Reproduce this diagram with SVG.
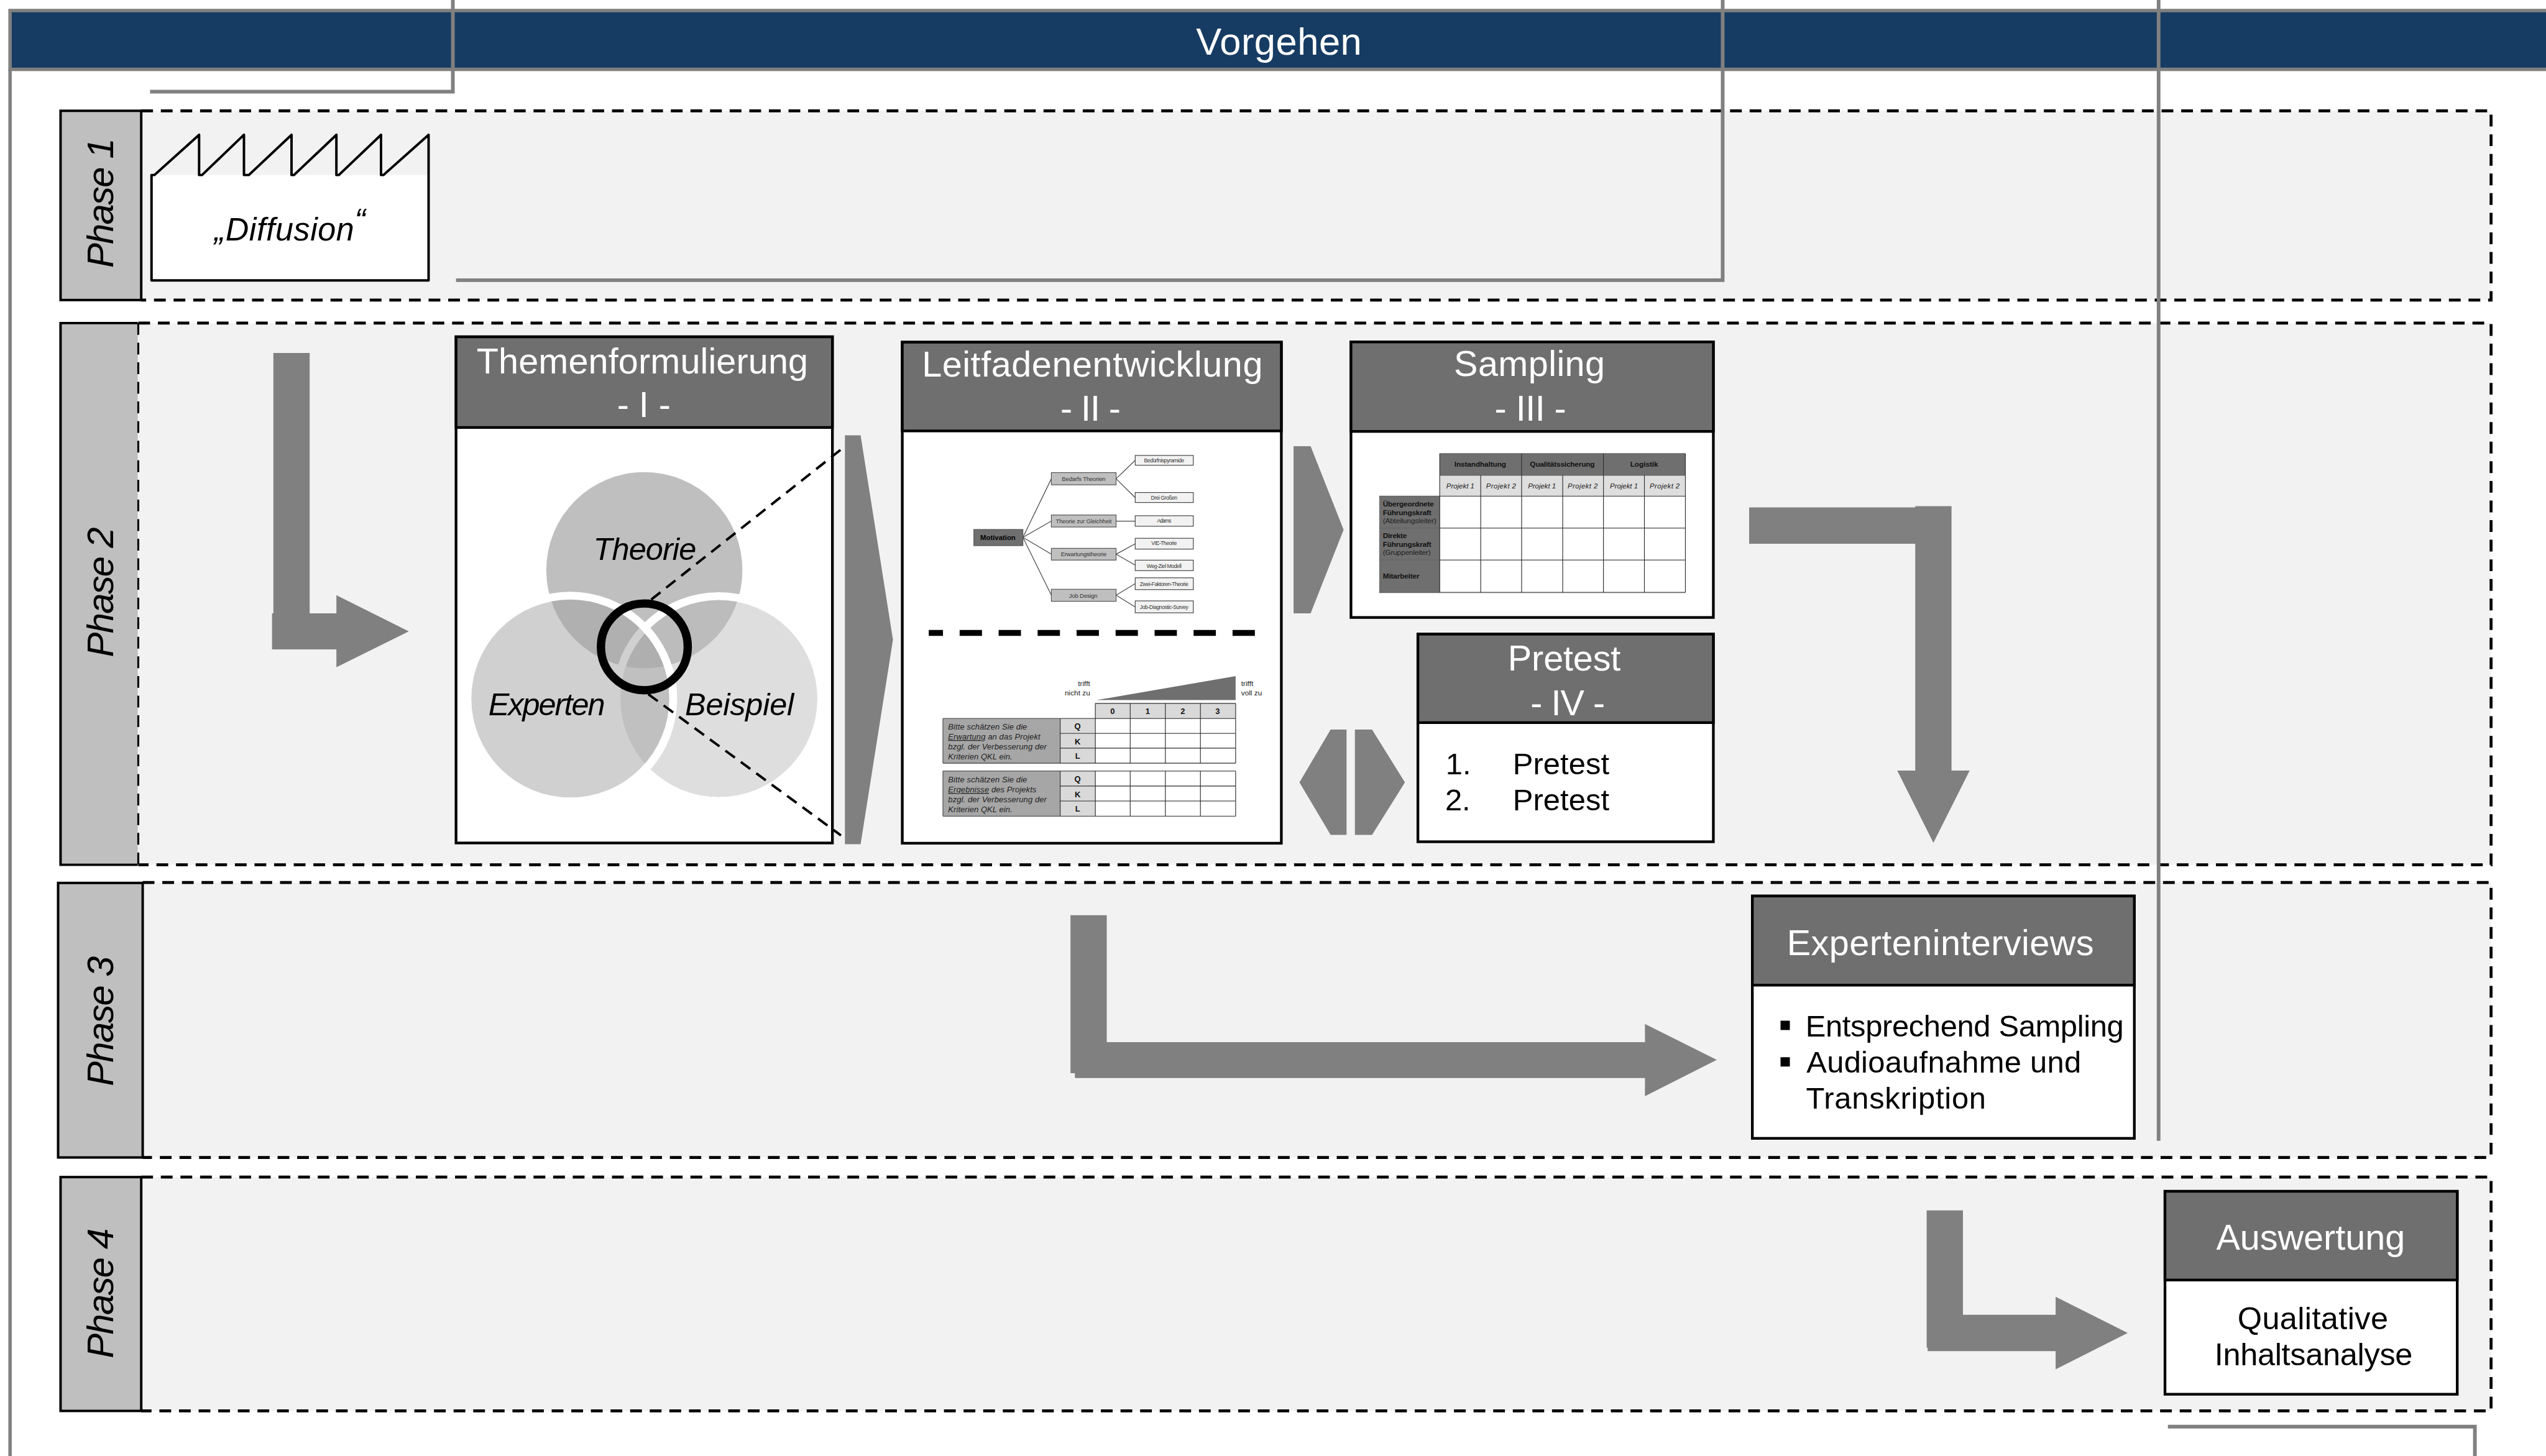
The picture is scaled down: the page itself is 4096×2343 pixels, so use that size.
<svg xmlns="http://www.w3.org/2000/svg" width="4096" height="2343" viewBox="0 0 4096 2343">
<style>
text{font-family:"Liberation Sans",Arial,sans-serif}
.arrow{fill:#808080}
.rail{fill:none;stroke:#808080;stroke-width:7.5}
.panel{fill:#f2f2f2}
.dash{fill:none;stroke:#000;stroke-width:6;stroke-dasharray:24 16}
.lab{fill:#bfbfbf;stroke:#000;stroke-width:5}
.ph{font-size:76px;font-style:italic;fill:#000;text-anchor:middle}
.head{fill:#6f6f6f;stroke:#000;stroke-width:5.5}
.body{fill:#fff;stroke:#000;stroke-width:5.5}
.t{font-size:73px;fill:#fff;text-anchor:middle}
.b{font-size:62px;fill:#000}
.i{font-size:64px;font-style:italic;fill:#000}
.l1{fill:#bfbfbf;stroke:#555;stroke-width:1.5}
.l2{fill:#f2f2f2;stroke:#444;stroke-width:1.5}
.tl{fill:none;stroke:#444;stroke-width:1.5}
.s1{font-size:12px;fill:#333;text-anchor:middle}
.s2{font-size:11px;fill:#333;text-anchor:middle}
.q{font-size:16.5px;font-style:italic;fill:#222}
.k{font-size:16.5px;font-weight:bold;fill:#111;text-anchor:middle}
.n{font-size:15px;fill:#222}
.h{stroke:#666;stroke-width:2;fill:none}
.v{stroke:#333;stroke-width:1.5;fill:none}
.sb{font-size:15px;font-weight:bold;fill:#111}
.sr{font-size:15px;fill:#222}
.sc{text-anchor:middle}
.sp{font-size:14.5px;font-style:italic;fill:#222;text-anchor:middle}
</style>
<g transform="scale(0.788906)">
<g id="frame">
<rect x="0" y="0" width="5192" height="2970" fill="#fff"/>
<rect x="20.5" y="21.5" width="5190" height="120" fill="#173c63" stroke="#808080" stroke-width="7"/>
<path d="M20.5 141V2970" class="rail" style="stroke-width:7"/>
<text x="2608" y="111" font-size="78" fill="#fff" text-anchor="middle" textLength="338">Vorgehen</text>
</g>

<g id="phase1">
<rect class="panel" x="288" y="226" width="4792" height="386"/>
<path class="dash" d="M288 226H5080V612H288"/>
<rect class="lab" x="123.500" y="226" width="164.500" height="386"/>
<text class="ph" transform="translate(231 414) rotate(-90)" textLength="265">Phase 1</text>
</g>
<g id="phase2">
<rect class="panel" x="282" y="659" width="4798" height="1105"/>
<path class="dash" d="M282 659H5080V1764H282"/>
<rect x="121" y="659" width="160" height="1105" fill="#bfbfbf"/>
<path d="M281 659H123.500V1764H281" fill="none" stroke="#000" stroke-width="5"/>
<path class="dash" d="M282 659V1764" style="stroke-width:4"/>
<text class="ph" transform="translate(231 1208) rotate(-90)" textLength="265">Phase 2</text>
</g>
<g id="phase3">
<rect class="panel" x="291" y="1800" width="4789" height="561"/>
<path class="dash" d="M291 1800H5080V2361H291"/>
<rect class="lab" x="118.500" y="1801" width="172.500" height="560"/>
<text class="ph" transform="translate(231 2083) rotate(-90)" textLength="265">Phase 3</text>
</g>
<g id="phase4">
<rect class="panel" x="288" y="2401" width="4792" height="477"/>
<path class="dash" d="M288 2401H5080V2878H288"/>
<rect class="lab" x="123.500" y="2401" width="164.500" height="477"/>
<text class="ph" transform="translate(231 2638) rotate(-90)" textLength="265">Phase 4</text>
</g>

<g id="diffusion">
<rect x="309" y="357" width="565" height="215" fill="#fff"/>
<path d="M309 357H315L406 275V357H412L497.500 275V357H507.500L594.500 275V357H599.500L686 275V357H691L777 275V357H782L874 275V572H309Z" fill="none" stroke="#000" stroke-width="5" stroke-linejoin="round"/>
<text x="437" y="491" font-size="66" font-style="italic" fill="#000" textLength="308">„Diffusion<tspan dy="-20">“</tspan></text>
</g>

<g id="connectors">
<polygon class="arrow" points="557.500,720 631.500,720 631.500,1251 686,1251 686,1214 833.700,1288 686,1361 686,1324.600 554.700,1324.600 554.700,1251 557.500,1251"/>
<polygon class="arrow" points="1723,888 1755,888 1821,1305 1755,1722 1723,1722"/>
<polygon class="arrow" points="2638,910 2672.700,910 2740,1080.700 2672.700,1251 2638,1251"/>
<polygon class="arrow" points="2746,1488 2713.500,1488 2650,1596 2713.500,1703 2746,1703"/>
<polygon class="arrow" points="2763,1488 2798,1488 2865,1596 2798,1703 2763,1703"/>
<polygon class="arrow" points="3567,1035 3905.700,1035 3905.700,1032.500 3979.700,1032.500 3979.700,1571.800 4016.700,1571.800 3942.700,1719 3869,1571.800 3905.700,1571.800 3905.700,1109 3567,1109"/>
<polygon class="arrow" points="2183,1866.700 2257,1866.700 2257,2125.700 3354.500,2125.700 3354.500,2088.700 3501,2162 3354.500,2236 3354.500,2199 2192,2199 2192,2189 2183,2189"/>
<polygon class="arrow" points="3929,2469 4003,2469 4003,2682 4192,2682 4192,2645 4339,2719 4192,2793 4192,2756 3931,2756 3931,2749 3929,2749"/>
<path class="rail" d="M306 187H923.500V0"/>
<path class="rail" d="M930 571.500H3513V0"/>
<path class="rail" d="M4402 0V2327"/>
<path class="rail" d="M4421 2910H5047V2970"/>
</g>

<g id="box1">
<rect class="body" x="930" y="687" width="767.500" height="1032.500"/>
<rect class="head" x="930" y="687" width="767.500" height="185"/>
<text class="t" x="1310" y="762" textLength="676">Themenformulierung</text>
<text class="t" x="1313" y="851">- I -</text>
<g id="venn">
<circle cx="1314" cy="1163" r="200" fill="#bfbfbf"/>
<circle cx="1466" cy="1425" r="201" fill="#bababa" opacity=".48"/>
<circle cx="1466" cy="1425" r="209" fill="none" stroke="#fff" stroke-width="16"/>
<circle cx="1163" cy="1425" r="202" fill="#a1a1a1" opacity=".5"/>
<circle cx="1163" cy="1425" r="210" fill="none" stroke="#fff" stroke-width="16"/>
<circle cx="1314" cy="1319.500" r="88.500" fill="none" stroke="#000" stroke-width="17"/>
<path d="M1328 1223L1725 909" fill="none" stroke="#000" stroke-width="5" stroke-dasharray="24 15"/>
<path d="M1322 1416L1715 1704" fill="none" stroke="#000" stroke-width="5" stroke-dasharray="24 15"/>
<text class="i" x="1210" y="1142" textLength="210">Theorie</text>
<text class="i" x="996" y="1459" textLength="238">Experten</text>
<text class="i" x="1397" y="1459" textLength="222">Beispiel</text>
</g>
</g>

<g id="box2">
<rect class="body" x="1840" y="698" width="773" height="1022"/>
<rect class="head" x="1840" y="698" width="773" height="181"/>
<text class="t" x="2227.500" y="768" textLength="695">Leitfadenentwicklung</text>
<text class="t" x="2224" y="858" textLength="123">- II -</text>
<g id="tree">
<path class="tl" d="M2086 1096L2144 976.500M2086 1096L2144 1063M2086 1096L2144 1130.500M2086 1096L2144 1214M2276 976.500L2315 939M2276 976.500L2315 1015M2276 1063H2315M2276 1130.500L2315 1109M2276 1130.500L2315 1153M2276 1214L2315 1190.500M2276 1214L2315 1238"/>
<rect x="1986" y="1080" width="100" height="33" fill="#6f6f6f" stroke="#555" stroke-width="1.5"/>
<text x="2035" y="1101" font-size="14.500" font-weight="bold" fill="#000" text-anchor="middle" textLength="72">Motivation</text>
<rect class="l1" x="2144" y="964" width="132" height="25"/><text class="s1" x="2210" y="981" textLength="89">Bedarfs Theorien</text>
<rect class="l1" x="2144" y="1050.500" width="132" height="24.500"/><text class="s1" x="2210" y="1067" textLength="114">Theorie zur Gleichheit</text>
<rect class="l1" x="2144" y="1118.500" width="132" height="24"/><text class="s1" x="2210" y="1135" textLength="93">Erwartungstheorie</text>
<rect class="l1" x="2144" y="1202" width="132" height="24.500"/><text class="s1" x="2209" y="1219" textLength="58">Job Design</text>
<rect class="l2" x="2315" y="929" width="118.500" height="20"/><text class="s2" x="2374" y="943" textLength="82">Bedürfnispyramide</text>
<rect class="l2" x="2315" y="1004.600" width="118.500" height="20.400"/><text class="s2" x="2374" y="1019" textLength="54">Drei Großen</text>
<rect class="l2" x="2315" y="1052" width="118.500" height="21.400"/><text class="s2" x="2374" y="1066" textLength="29">Adams</text>
<rect class="l2" x="2315" y="1098" width="118.500" height="22"/><text class="s2" x="2374" y="1112" textLength="52">VIE-Theorie</text>
<rect class="l2" x="2315" y="1142.600" width="118.500" height="21.400"/><text class="s2" x="2374" y="1158" textLength="71">Weg-Ziel Modell</text>
<rect class="l2" x="2315" y="1178.600" width="118.500" height="24.100"/><text class="s2" x="2374" y="1195" textLength="99">Zwei-Faktoren-Theorie</text>
<rect class="l2" x="2315" y="1225.700" width="118.500" height="24.300"/><text class="s2" x="2374" y="1242" textLength="99">Job-Diagnostic-Survey</text>
</g>
<path d="M1894 1291H2560" fill="none" stroke="#000" stroke-width="12" stroke-dasharray="45.500 34" stroke-dashoffset="16.500"/>
<g id="survey">
<polygon points="2236,1428 2519.800,1379 2519.800,1428" fill="#6f6f6f"/>
<text class="n" x="2223" y="1399" text-anchor="end">trifft</text>
<text class="n" x="2223" y="1419" text-anchor="end">nicht zu</text>
<text class="n" x="2531" y="1399">trifft</text>
<text class="n" x="2531" y="1419">voll zu</text>
<rect x="2233.700" y="1434.700" width="286.100" height="30.600" fill="#d9d9d9"/>
<rect x="1923" y="1465.700" width="239" height="91" fill="#a6a6a6"/>
<rect x="1923" y="1572.700" width="239" height="92.300" fill="#a6a6a6"/>
<rect x="2162" y="1465.700" width="71.700" height="91" fill="#d9d9d9"/>
<rect x="2162" y="1572.700" width="71.700" height="92.300" fill="#d9d9d9"/>
<path class="h" d="M2233.700 1434.700H2519.800M1923 1465.700H2519.800M2162 1496H2519.800M2162 1526H2519.800M1923 1556.700H2519.800M1923 1572.700H2519.800M2162 1603.300H2519.800M2162 1634H2519.800M1923 1665H2519.800M1923 1465.700V1556.700M1923 1572.700V1665"/>
<path class="v" d="M2162 1465.700V1556.700M2162 1572.700V1665M2233.700 1434.700V1556.700M2233.700 1572.700V1665M2304.800 1434.700V1556.700M2304.800 1572.700V1665M2376.500 1434.700V1556.700M2376.500 1572.700V1665M2448 1434.700V1556.700M2448 1572.700V1665M2519.800 1434.700V1556.700M2519.800 1572.700V1665"/>
<text class="k" x="2268.700" y="1457">0</text><text class="k" x="2340.400" y="1457">1</text><text class="k" x="2412" y="1457">2</text><text class="k" x="2483" y="1457">3</text>
<text class="k" x="2197.600" y="1487">Q</text><text class="k" x="2197.600" y="1518">K</text><text class="k" x="2197.600" y="1548">L</text>
<text class="k" x="2197.600" y="1595">Q</text><text class="k" x="2197.600" y="1626">K</text><text class="k" x="2197.600" y="1656">L</text>
<text class="q" x="1933.500" y="1487.700" textLength="161">Bitte schätzen Sie die</text>
<text class="q" x="1933.500" y="1508.300" textLength="188"><tspan text-decoration="underline">Erwartung</tspan> an das Projekt</text>
<text class="q" x="1933.500" y="1528.700" textLength="201">bzgl. der Verbesserung der</text>
<text class="q" x="1933.500" y="1548.700" textLength="131">Kriterien QKL ein.</text>
<text class="q" x="1933.500" y="1595.700" textLength="161">Bitte schätzen Sie die</text>
<text class="q" x="1933.500" y="1616.300" textLength="180"><tspan text-decoration="underline">Ergebnisse</tspan> des Projekts</text>
<text class="q" x="1933.500" y="1636.700" textLength="201">bzgl. der Verbesserung der</text>
<text class="q" x="1933.500" y="1656.700" textLength="131">Kriterien QKL ein.</text>
</g>
</g>

<g id="box3">
<rect class="body" x="2755" y="697.500" width="739" height="562"/>
<rect class="head" x="2755" y="697.500" width="739" height="182.500"/>
<text class="t" x="3119" y="767" textLength="308">Sampling</text>
<text class="t" x="3121" y="858" textLength="146">- III -</text>
<g id="sampling-table">
<rect x="2936" y="925.300" width="501" height="44" fill="#6f6f6f"/>
<rect x="2936" y="969.300" width="501" height="42.900" fill="#dedede"/>
<rect x="2812.600" y="1012.200" width="123.400" height="196.300" fill="#6f6f6f"/>
<path class="h" d="M2936 925.300H3437M2936 969.300H3437M2812.600 1012.200H3437M2812.600 1077.200H3437M2812.600 1142.300H3437M2812.600 1208.500H3437"/>
<path class="v" d="M2936 925.300V1208.500M3019.600 969.300V1208.500M3103 925.300V1208.500M3186.800 969.300V1208.500M3269.900 925.300V1208.500M3353.400 969.300V1208.500M3437 925.300V1208.500"/>
<text class="sb sc" x="3018.600" y="952.500" textLength="105.500">Instandhaltung</text>
<text class="sb sc" x="3186" y="952.500" textLength="132">Qualitätssicherung</text>
<text class="sb sc" x="3353" y="952.500" textLength="57">Logistik</text>
<text class="sp" x="2978" y="996.500" textLength="57">Projekt 1</text>
<text class="sp" x="3061" y="996.500" textLength="61">Projekt 2</text>
<text class="sp" x="3144.500" y="996.500" textLength="57">Projekt 1</text>
<text class="sp" x="3227.500" y="996.500" textLength="61">Projekt 2</text>
<text class="sp" x="3311.600" y="996.500" textLength="57">Projekt 1</text>
<text class="sp" x="3394.700" y="996.500" textLength="61">Projekt 2</text>
<text class="sb" x="2820" y="1033" textLength="104">Übergeordnete</text>
<text class="sb" x="2820" y="1050.500" textLength="99">Führungskraft</text>
<text class="sr" x="2820" y="1067" textLength="109">(Abteilungsleiter)</text>
<text class="sb" x="2820" y="1098" textLength="49">Direkte</text>
<text class="sb" x="2820" y="1115.500" textLength="99">Führungskraft</text>
<text class="sr" x="2820" y="1132.300" textLength="97.500">(Gruppenleiter)</text>
<text class="sb" x="2820" y="1180.600" textLength="74.600">Mitarbeiter</text>
</g>
</g>

<g id="box4">
<rect class="body" x="2891.500" y="1293.500" width="602.500" height="423.500"/>
<rect class="head" x="2891.500" y="1293.500" width="602.500" height="180.500"/>
<text class="t" x="3190" y="1368" textLength="230">Pretest</text>
<text class="t" x="3197" y="1459" textLength="152">- IV -</text>
<text class="b" x="2948" y="1579.400">1.</text>
<text class="b" x="3085" y="1579.400" textLength="197">Pretest</text>
<text class="b" x="2947" y="1653">2.</text>
<text class="b" x="3085" y="1653" textLength="197">Pretest</text>
</g>

<g id="box5">
<rect class="body" x="3573.500" y="1827.700" width="779" height="494.300"/>
<rect class="head" x="3573.500" y="1827.700" width="779" height="181.800"/>
<text class="t" x="3957" y="1948.700" textLength="626">Experteninterviews</text>
<rect x="3631" y="2082" width="19" height="19"/>
<rect x="3631" y="2156.500" width="19" height="19"/>
<text class="b" x="3682" y="2114" textLength="649">Entsprechend Sampling</text>
<text class="b" x="3684" y="2187.800" textLength="560">Audioaufnahme und</text>
<text class="b" x="3683" y="2262" textLength="367">Transkription</text>
</g>

<g id="box6">
<rect class="body" x="4415" y="2430" width="596" height="414"/>
<rect class="head" x="4415" y="2430" width="596" height="181"/>
<text class="t" x="4712" y="2549" textLength="385">Auswertung</text>
<text x="4716.500" y="2711" font-size="64" fill="#000" text-anchor="middle" textLength="307">Qualitative</text>
<text x="4718" y="2785" font-size="64" fill="#000" text-anchor="middle" textLength="404">Inhaltsanalyse</text>
</g>
</g>
</svg>
